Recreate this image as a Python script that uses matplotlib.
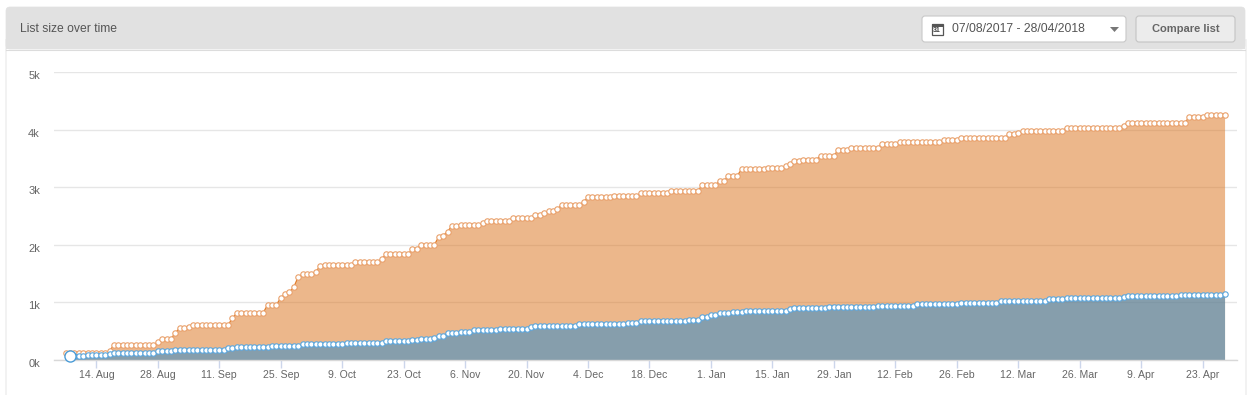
import numpy as np
import matplotlib
matplotlib.use('Agg')
import matplotlib.pyplot as plt
from matplotlib.patches import Rectangle, FancyBboxPatch, Polygon
from matplotlib.transforms import ScaledTranslation

plt.rcParams['font.family'] = ['Liberation Sans', 'DejaVu Sans']

# days since 7 Aug 2017 where the count changes, and the count from that day on
orange_days = [0, 10, 11, 21, 22, 25, 26, 28, 29, 38, 39, 46, 49, 50, 51, 52, 53, 54, 57, 58, 59,
               66, 72, 73, 79, 81, 85, 86, 87, 88, 90, 95, 96, 102, 107, 109, 110, 112, 113, 118,
               119, 125, 131, 138, 145, 149, 151, 154, 160, 164, 165, 166, 168, 172, 176, 179,
               186, 190, 200, 204, 215, 217, 218, 228, 241, 242, 256, 260]
orange_vals = [127, 155, 260, 310, 365, 470, 555, 580, 605, 725, 815, 955, 1075, 1145, 1180, 1265,
               1445, 1490, 1535, 1630, 1655, 1700, 1755, 1835, 1925, 2000, 2135, 2155, 2230, 2325,
               2345, 2375, 2415, 2470, 2515, 2545, 2585, 2620, 2690, 2745, 2825, 2845, 2895, 2935,
               3030, 3110, 3200, 3310, 3330, 3370, 3400, 3455, 3480, 3545, 3645, 3680, 3745, 3785,
               3820, 3860, 3920, 3940, 3970, 4035, 4070, 4120, 4225, 4250]
blue_days = [0, 5, 10, 11, 21, 25, 37, 39, 47, 54, 64, 73, 79, 81, 84, 85, 87, 90, 93, 99, 106, 107,
             117, 128, 131, 142, 145, 147, 149, 152, 155, 165, 166, 174, 185, 194, 204, 213, 224,
             228, 241, 242, 254, 264]
blue_vals = [75, 90, 105, 125, 155, 175, 200, 230, 250, 278, 300, 330, 340, 365, 380, 417, 463, 490,
             520, 533, 568, 595, 625, 648, 677, 695, 746, 781, 810, 828, 850, 880, 903, 920, 943,
             967, 995, 1024, 1059, 1082, 1094, 1111, 1128, 1146]
last_day = 264

tick_days = list(range(7, 260, 14))
tick_labels = ['14. Aug', '28. Aug', '11. Sep', '25. Sep', '9. Oct', '23. Oct', '6. Nov', '20. Nov',
               '4. Dec', '18. Dec', '1. Jan', '15. Jan', '29. Jan', '12. Feb', '26. Feb', '12. Mar',
               '26. Mar', '9. Apr', '23. Apr']
y_ticks = [0, 1000, 2000, 3000, 4000, 5000]
y_labels = ['0k', '1k', '2k', '3k', '4k', '5k']

W, H = 1252, 395
fig = plt.figure(figsize=(W / 100, H / 100), dpi=100, facecolor='white')

# page furniture, in pixels
ui = fig.add_axes([0, 0, 1, 1])
ui.set_xlim(0, W)
ui.set_ylim(H, 0)
ui.axis('off')
ui.add_patch(Rectangle((5.5, 40), 1240, 360, fc='white', ec='#f0f0f0', lw=1.2))
ui.add_patch(FancyBboxPatch((9, 10), 1233, 36, boxstyle='round,pad=3,rounding_size=4',
                            fc='#e1e1e1', ec='#e1e1e1', lw=0.5))
ui.add_patch(Rectangle((6, 30), 1239, 19, fc='#e1e1e1', ec='none'))
ui.plot([6, 1245], [49.5, 49.5], color='#dcdcdc', lw=0.8)
ui.text(20, 29, 'List size over time', fontsize=8.7, color='#555555', va='center')

ui.add_patch(FancyBboxPatch((924, 18), 200, 22, boxstyle='round,pad=2,rounding_size=3',
                            fc='white', ec='#c8c8c8', lw=0.8))
ui.add_patch(FancyBboxPatch((1138, 18), 95, 22, boxstyle='round,pad=2,rounding_size=3',
                            fc='#ececec', ec='#c4c4c4', lw=0.8))
ui.text(952, 29, '07/08/2017 - 28/04/2018', fontsize=8.8, color='#555555', va='center')
ui.text(1186, 29, 'Compare list', fontsize=8, color='#666666', va='center', ha='center',
        fontweight='bold')
ui.add_patch(Polygon([[1110, 27], [1119, 27], [1114.5, 32]], fc='#777777', ec='none'))
# calendar icon
ui.add_patch(Rectangle((931.5, 23.5), 11, 11, fc='white', ec='#555555', lw=0.9))
ui.add_patch(Rectangle((931.5, 23.5), 11, 3, fc='#555555', ec='none'))
ui.text(937, 31, '31', fontsize=5, color='#444444', ha='center', va='center', fontweight='bold')

# chart area, placed so days and counts land on the same pixels as the original
px_per_day = 4.39
left, right, top, bottom = 54, 1237, 72, 360
ax = fig.add_axes([left / W, 1 - bottom / H, (right - left) / W, (bottom - top) / H])
ax.patch.set_alpha(0)
ax.set_xlim((left - 65.6) / px_per_day, (right - 65.6) / px_per_day)
ax.set_ylim(0, 5000)

days = np.arange(last_day + 1)
orange = np.array(orange_vals)[np.searchsorted(orange_days, days, side='right') - 1]
blue = np.array(blue_vals)[np.searchsorted(blue_days, days, side='right') - 1]

ax.yaxis.grid(True, color='#e6e6e6', lw=1)
ax.set_axisbelow(True)
ax.fill_between(days, 0, orange, color='#DB7119', alpha=0.5, lw=0, zorder=2)
ax.fill_between(days, 0, blue, color='#2186CE', alpha=0.5, lw=0, zorder=2.1)
ax.plot(days, orange, color='#E2802F', lw=1, marker='o', ms=3.9, mfc='white', mec='#E9A06A',
        mew=0.8, zorder=3, clip_on=False)
ax.plot(days[1:], blue[1:], color='#4A9BD6', lw=1, marker='o', ms=3.9, mfc='white', mec='#5AA5DC',
        mew=0.8, zorder=3.1, clip_on=False)
ax.plot(days[1], blue[1], marker='o', ms=8, mfc='white', mec='#4A9BD6', mew=1, zorder=4, clip_on=False)

for s in ['top', 'left', 'right']:
    ax.spines[s].set_visible(False)
ax.spines['bottom'].set_color('#d8d8d8')
ax.spines['bottom'].set_linewidth(1)
ax.set_xticks(tick_days)
ax.set_xticklabels(tick_labels)
ax.set_yticks(y_ticks)
ax.set_yticklabels(y_labels)
ax.tick_params(axis='x', length=6, width=1, color='#ccd6eb', labelsize=7.6, labelcolor='#666666', pad=1)
ax.tick_params(axis='y', length=0, labelsize=8, labelcolor='#666666', pad=13)
# y labels sit a little under their grid lines
shift = ScaledTranslation(4 / 100, -3 / 100, fig.dpi_scale_trans)
for t in ax.get_yticklabels():
    t.set_transform(t.get_transform() + shift)

fig.savefig('out.png', dpi=100)
